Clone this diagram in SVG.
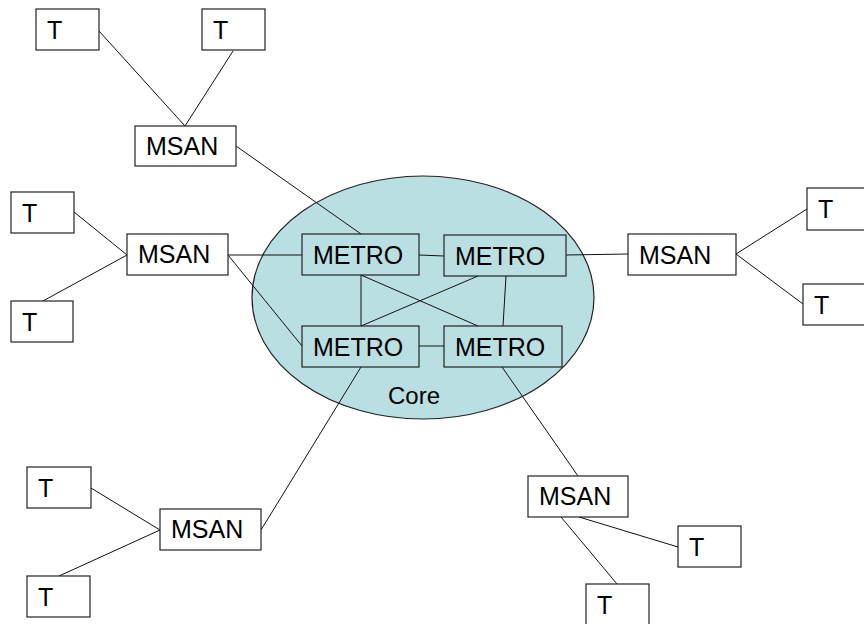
<svg xmlns="http://www.w3.org/2000/svg" width="864" height="624" viewBox="0 0 864 624">
<style>
.bg{fill:#ffffff}
.box{fill:#ffffff;stroke:#222;stroke-width:1.2}
.mbox{fill:none;stroke:#222;stroke-width:1.2}
.core{fill:#b9dfe3;stroke:#222;stroke-width:1.2}
.lbl{font-family:"Liberation Sans",Arial,sans-serif;font-size:25px;fill:#000}
.clbl{font-family:"Liberation Sans",Arial,sans-serif;font-size:24px;fill:#000}
.conn line{stroke:#111;stroke-width:1}
</style>
<rect class="bg" x="0" y="0" width="864" height="624"/>
<g id="core">
<ellipse class="core" cx="423" cy="297.5" rx="171" ry="121.5"/>
<text class="clbl" x="388" y="404">Core</text>
</g>
<g id="connectors" class="conn">
<line x1="99" y1="31" x2="185" y2="126"/>
<line x1="233" y1="51" x2="185" y2="126"/>
<line x1="236" y1="146" x2="361" y2="234"/>
<line x1="74" y1="212" x2="127" y2="255"/>
<line x1="43" y1="301" x2="127" y2="255"/>
<line x1="228" y1="255" x2="302" y2="255"/>
<line x1="228" y1="255" x2="302" y2="346"/>
<line x1="419" y1="255" x2="444" y2="256"/>
<line x1="361" y1="275" x2="361" y2="326"/>
<line x1="361" y1="275" x2="478" y2="326"/>
<line x1="478" y1="276" x2="361" y2="326"/>
<line x1="506" y1="276" x2="503" y2="326"/>
<line x1="419" y1="346" x2="444" y2="346"/>
<line x1="566" y1="255" x2="628" y2="254"/>
<line x1="736" y1="254" x2="807" y2="209"/>
<line x1="736" y1="254" x2="803" y2="304"/>
<line x1="361" y1="367" x2="261" y2="530"/>
<line x1="91" y1="488" x2="160" y2="530"/>
<line x1="59" y1="576" x2="160" y2="530"/>
<line x1="502" y1="367" x2="578" y2="476"/>
<line x1="579" y1="517" x2="678" y2="547"/>
<line x1="561" y1="517" x2="617" y2="584"/>
</g>
<g id="metro1"><rect class="mbox" x="302" y="234" width="117" height="41"/><text class="lbl" x="313" y="264">METRO</text></g>
<g id="metro2"><rect class="mbox" x="444" y="235" width="122" height="41"/><text class="lbl" x="455" y="265">METRO</text></g>
<g id="metro3"><rect class="mbox" x="302" y="326" width="117" height="41"/><text class="lbl" x="313" y="356">METRO</text></g>
<g id="metro4"><rect class="mbox" x="444" y="326" width="118" height="41"/><text class="lbl" x="455" y="356">METRO</text></g>
<g id="msan1"><rect class="box" x="135" y="126" width="101" height="40"/><text class="lbl" x="146" y="155">MSAN</text></g>
<g id="msan2"><rect class="box" x="127" y="234" width="101" height="41"/><text class="lbl" x="138" y="263">MSAN</text></g>
<g id="msan3"><rect class="box" x="628" y="234" width="108" height="41"/><text class="lbl" x="639" y="264">MSAN</text></g>
<g id="msan4"><rect class="box" x="160" y="509" width="101" height="41"/><text class="lbl" x="171" y="538">MSAN</text></g>
<g id="msan5"><rect class="box" x="528" y="476" width="100" height="41"/><text class="lbl" x="539" y="505">MSAN</text></g>
<g id="t1"><rect class="box" x="36" y="9" width="63" height="41"/><text class="lbl" x="47" y="39">T</text></g>
<g id="t2"><rect class="box" x="202" y="9" width="63" height="41"/><text class="lbl" x="213" y="39">T</text></g>
<g id="t3"><rect class="box" x="11" y="192" width="63" height="41"/><text class="lbl" x="22" y="222">T</text></g>
<g id="t4"><rect class="box" x="11" y="301" width="62" height="41"/><text class="lbl" x="22" y="331">T</text></g>
<g id="t5"><rect class="box" x="807" y="188" width="63" height="42"/><text class="lbl" x="818" y="218">T</text></g>
<g id="t6"><rect class="box" x="803" y="284" width="63" height="41"/><text class="lbl" x="814" y="314">T</text></g>
<g id="t7"><rect class="box" x="27" y="467" width="64" height="41"/><text class="lbl" x="38" y="497">T</text></g>
<g id="t8"><rect class="box" x="27" y="576" width="63" height="41"/><text class="lbl" x="38" y="606">T</text></g>
<g id="t9"><rect class="box" x="678" y="526" width="63" height="41"/><text class="lbl" x="689" y="556">T</text></g>
<g id="t10"><rect class="box" x="586" y="584" width="63" height="41"/><text class="lbl" x="597" y="614">T</text></g>
</svg>
